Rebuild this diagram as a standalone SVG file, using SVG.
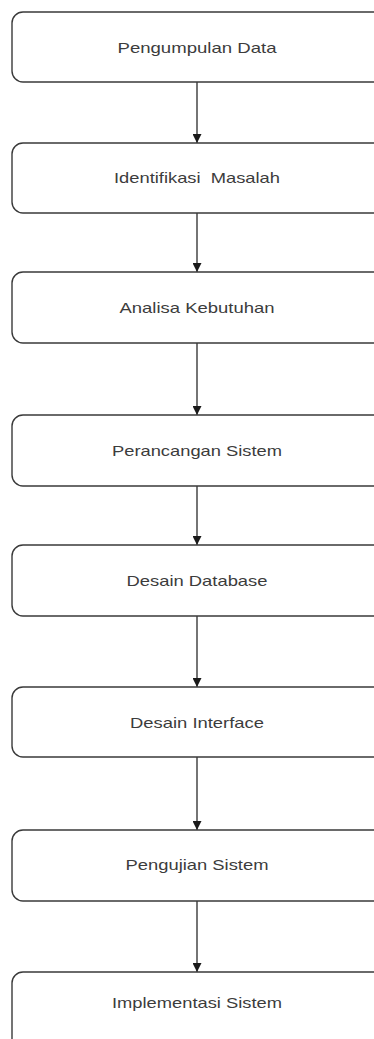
<svg xmlns="http://www.w3.org/2000/svg" width="374" height="1039" viewBox="0 0 374 1039">
<style>
.box{fill:#ffffff;stroke:#3a3a3a;stroke-width:1.4}
.lbl{font-family:"Liberation Sans",Arial,sans-serif;font-size:15px;fill:#3c3c3c;text-anchor:middle}
.edge{stroke:#3a3a3a;stroke-width:1.4;fill:none;marker-end:url(#arr)}
</style>
<defs>
<marker id="arr" viewBox="0 0 10 10" refX="10" refY="5" markerWidth="10" markerHeight="9" markerUnits="userSpaceOnUse" orient="auto">
<path d="M0,0 L10,5 L0,10 Z" fill="#1a1a1a"/>
</marker>
</defs>
<rect width="374" height="1039" fill="#ffffff"/>
<g id="connectors">
<line class="edge" x1="197" y1="82" x2="197" y2="143"/>
<line class="edge" x1="197" y1="213" x2="197" y2="272"/>
<line class="edge" x1="197" y1="343" x2="197" y2="415"/>
<line class="edge" x1="197" y1="486" x2="197" y2="545"/>
<line class="edge" x1="197" y1="616" x2="197" y2="687"/>
<line class="edge" x1="197" y1="757" x2="197" y2="830"/>
<line class="edge" x1="197" y1="901" x2="197" y2="972"/>
</g>
<g id="n1"><rect class="box" x="12" y="12" width="400" height="70" rx="11"/><text class="lbl" x="197" y="53" textLength="159" lengthAdjust="spacingAndGlyphs">Pengumpulan Data</text></g>
<g id="n2"><rect class="box" x="12" y="143" width="400" height="70" rx="11"/><text class="lbl" x="197" y="183" textLength="166" lengthAdjust="spacingAndGlyphs" xml:space="preserve">Identifikasi  Masalah</text></g>
<g id="n3"><rect class="box" x="12" y="272" width="400" height="71" rx="11"/><text class="lbl" x="197" y="313" textLength="155" lengthAdjust="spacingAndGlyphs">Analisa Kebutuhan</text></g>
<g id="n4"><rect class="box" x="12" y="415" width="400" height="71" rx="11"/><text class="lbl" x="197" y="456" textLength="170" lengthAdjust="spacingAndGlyphs">Perancangan Sistem</text></g>
<g id="n5"><rect class="box" x="12" y="545" width="400" height="71" rx="11"/><text class="lbl" x="197" y="586" textLength="141" lengthAdjust="spacingAndGlyphs">Desain Database</text></g>
<g id="n6"><rect class="box" x="12" y="687" width="400" height="70" rx="11"/><text class="lbl" x="197" y="728" textLength="134" lengthAdjust="spacingAndGlyphs">Desain Interface</text></g>
<g id="n7"><rect class="box" x="12" y="830" width="400" height="71" rx="11"/><text class="lbl" x="197" y="870" textLength="143" lengthAdjust="spacingAndGlyphs">Pengujian Sistem</text></g>
<g id="n8"><rect class="box" x="12" y="972" width="400" height="100" rx="11"/><text class="lbl" x="197" y="1008" textLength="170" lengthAdjust="spacingAndGlyphs">Implementasi Sistem</text></g>
</svg>
